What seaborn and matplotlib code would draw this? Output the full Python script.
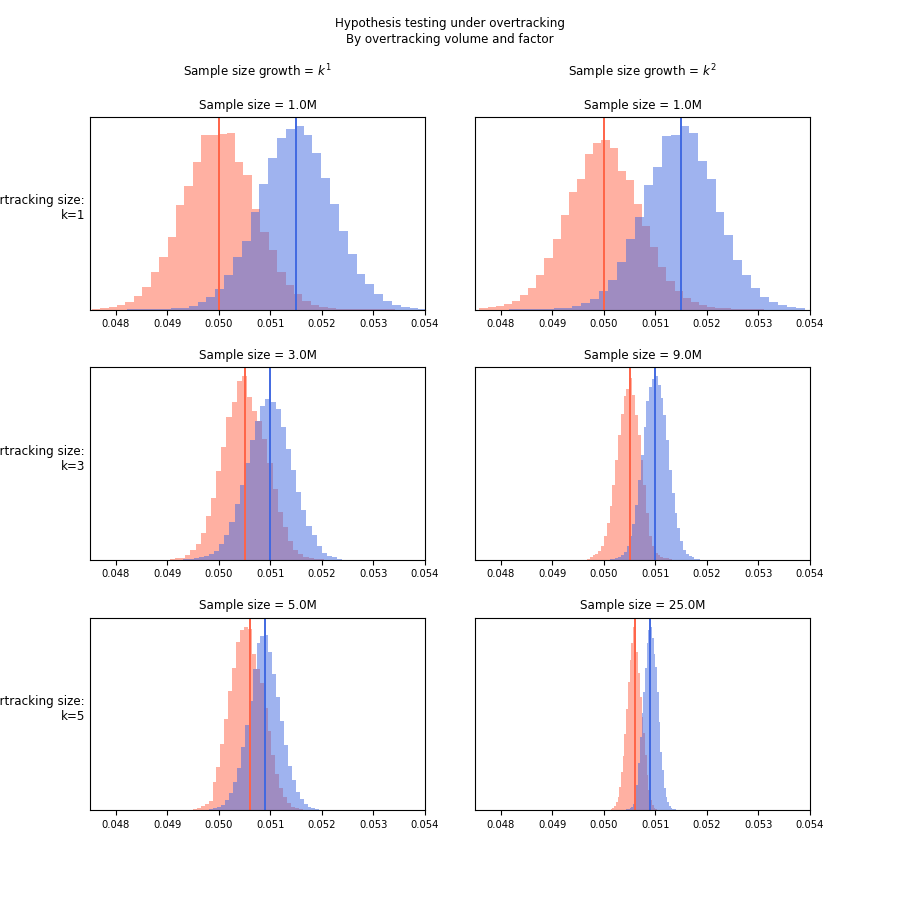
import numpy as np
import matplotlib
matplotlib.use("Agg")
import matplotlib.pyplot as plt
import seaborn as sns

# rows: overtracking factor k, columns: how the sample size grows with k
overtrack_k = [1, 3, 5]
growth_titles = ["Sample size growth = $k^1$", "Sample size growth = $k^2$"]
sample_sizes_g1 = ["1.0M", "3.0M", "5.0M"]
sample_sizes_g2 = ["1.0M", "9.0M", "25.0M"]

# true conversion rate of each hypothesis (vertical lines)
null_means = [0.0500, 0.0505, 0.0506]
alt_means = [0.0515, 0.0510, 0.0509]

# histogram bins: first edge, bin width, bar heights (arbitrary units)
null_starts_g1 = [0.047532, 0.049052, 0.049498]
null_widths_g1 = [0.0001637, 0.0000996, 0.0000762]
alt_starts_g1 = [0.048218, 0.049311, 0.049818]
alt_widths_g1 = [0.0001714, 0.0000996, 0.0000762]

null_starts_g2 = [0.047584, 0.049671, 0.050131]
null_widths_g2 = [0.0001578, 0.0000548, 0.0000333]
alt_starts_g2 = [0.048164, 0.050112, 0.050431]
alt_widths_g2 = [0.0001740, 0.0000548, 0.0000333]

null_g1_k1 = [3, 6, 9, 14, 24, 42, 69, 114, 159, 219, 315, 371, 444, 525, 525, 528, 531, 444,
              405, 302, 234, 180, 114, 75, 48, 27, 15, 9, 5, 3, 2, 2, 1, 1, 1, 1]
alt_g1_k1 = [1, 1, 1, 2, 2, 4, 6, 12, 22, 38, 63, 103, 157, 207, 294, 378, 455, 515, 542, 552,
             524, 472, 396, 317, 237, 168, 108, 76, 47, 27, 15, 9, 6, 3]
null_g1_k3 = [3, 4, 6, 15, 31, 49, 83, 135, 192, 276, 348, 443, 489, 552, 567, 504, 459, 430,
              372, 300, 219, 148, 100, 58, 31, 18, 8, 4, 2, 1]
alt_g1_k3 = [1, 2, 5, 8, 11, 18, 28, 48, 78, 118, 172, 231, 300, 371, 430, 475, 498, 488, 465,
             410, 343, 279, 210, 153, 104, 75, 42, 22, 13, 7, 3]
null_g1_k5 = [3, 7, 12, 18, 27, 85, 130, 197, 273, 355, 425, 502, 537, 548, 540, 467, 420, 380,
              305, 235, 165, 108, 65, 40, 20, 9, 5, 3]
alt_g1_k5 = [3, 5, 8, 15, 30, 50, 85, 125, 187, 255, 327, 420, 500, 520, 522, 473, 408, 338,
             265, 195, 132, 90, 55, 32, 18, 9, 5, 2]

null_g2_k1 = [3, 8, 10, 17, 24, 42, 63, 103, 153, 210, 279, 347, 387, 462, 492, 501, 477, 411,
              384, 312, 246, 185, 126, 83, 55, 34, 22, 13, 8, 5, 3, 2, 2, 1, 1]
alt_g2_k1 = [1, 1, 1, 2, 2, 3, 5, 9, 18, 30, 54, 87, 141, 210, 273, 369, 423, 513, 516, 543,
             522, 441, 387, 288, 222, 147, 103, 63, 36, 21, 12, 6, 3]
null_g2_k3 = [3, 7, 13, 17, 25, 40, 72, 111, 161, 225, 299, 374, 437, 490, 512, 545, 494, 434,
              373, 300, 225, 140, 70, 40, 20, 13, 7, 5, 4, 3]
alt_g2_k3 = [2, 3, 5, 8, 14, 22, 40, 70, 107, 165, 240, 315, 398, 477, 517, 543, 550, 523, 485,
             435, 360, 270, 200, 140, 95, 55, 30, 18, 10, 7, 3, 2]
null_g2_k5 = [3, 7, 12, 23, 40, 69, 115, 162, 228, 302, 385, 451, 502, 548, 517, 475, 410, 340,
              280, 230, 165, 105, 60, 30, 15, 7, 3]
alt_g2_k5 = [2, 4, 6, 10, 17, 35, 75, 140, 220, 290, 355, 425, 500, 540, 550, 515, 467, 430,
             355, 265, 175, 120, 65, 40, 25, 13, 7, 4, 2]

NULL_COLOR = "tomato"
ALT_COLOR = "royalblue"
TEXT_SIZE = 8.6


def draw_hist(ax, start, width, heights, color):
    # one weighted observation in the middle of each bin
    n = len(heights)
    centers = start + width * (np.arange(n) + 0.5)
    sns.histplot(x=centers, weights=list(heights), binwidth=width,
                 binrange=(start, start + n * width), color=color, alpha=0.5,
                 linewidth=0, ax=ax)


fig, axes = plt.subplots(3, 2, figsize=(9, 9), dpi=100)
fig.subplots_adjust(left=0.1, right=0.9, bottom=0.1, top=0.87, wspace=0.15, hspace=0.3)

columns = [
    (sample_sizes_g1, null_starts_g1, null_widths_g1, [null_g1_k1, null_g1_k3, null_g1_k5],
     alt_starts_g1, alt_widths_g1, [alt_g1_k1, alt_g1_k3, alt_g1_k5]),
    (sample_sizes_g2, null_starts_g2, null_widths_g2, [null_g2_k1, null_g2_k3, null_g2_k5],
     alt_starts_g2, alt_widths_g2, [alt_g2_k1, alt_g2_k3, alt_g2_k5]),
]

for col, (sizes, n_starts, n_widths, n_counts, a_starts, a_widths, a_counts) in enumerate(columns):
    for row in range(3):
        ax = axes[row, col]
        draw_hist(ax, n_starts[row], n_widths[row], n_counts[row], NULL_COLOR)
        draw_hist(ax, a_starts[row], a_widths[row], a_counts[row], ALT_COLOR)
        ax.axvline(null_means[row], color=NULL_COLOR, lw=1.4)
        ax.axvline(alt_means[row], color=ALT_COLOR, lw=1.4)

        ax.set_xlim(0.0475, 0.054)
        ticks = [0.048, 0.049, 0.050, 0.051, 0.052, 0.053, 0.054]
        ax.set_xticks(ticks)
        ax.set_xticklabels([f"{t:.3f}" for t in ticks], fontsize=7.2)
        ax.set_yticks([])
        ax.set_ylabel("")
        ax.set_title(f"Sample size = {sizes[row]}", fontsize=TEXT_SIZE)

        if col == 0:
            ax.text(-0.015, 0.525, f"Overtracking size:\nk={overtrack_k[row]}",
                    transform=ax.transAxes, ha="right", va="center", fontsize=TEXT_SIZE)

# column headers
fig.text(0.286, 0.92, growth_titles[0], ha="center", va="center", fontsize=TEXT_SIZE)
fig.text(0.714, 0.92, growth_titles[1], ha="center", va="center", fontsize=TEXT_SIZE)

fig.suptitle("Hypothesis testing under overtracking\nBy overtracking volume and factor",
             y=0.965, va="center", fontsize=TEXT_SIZE)

plt.savefig("out.png", dpi=100)
